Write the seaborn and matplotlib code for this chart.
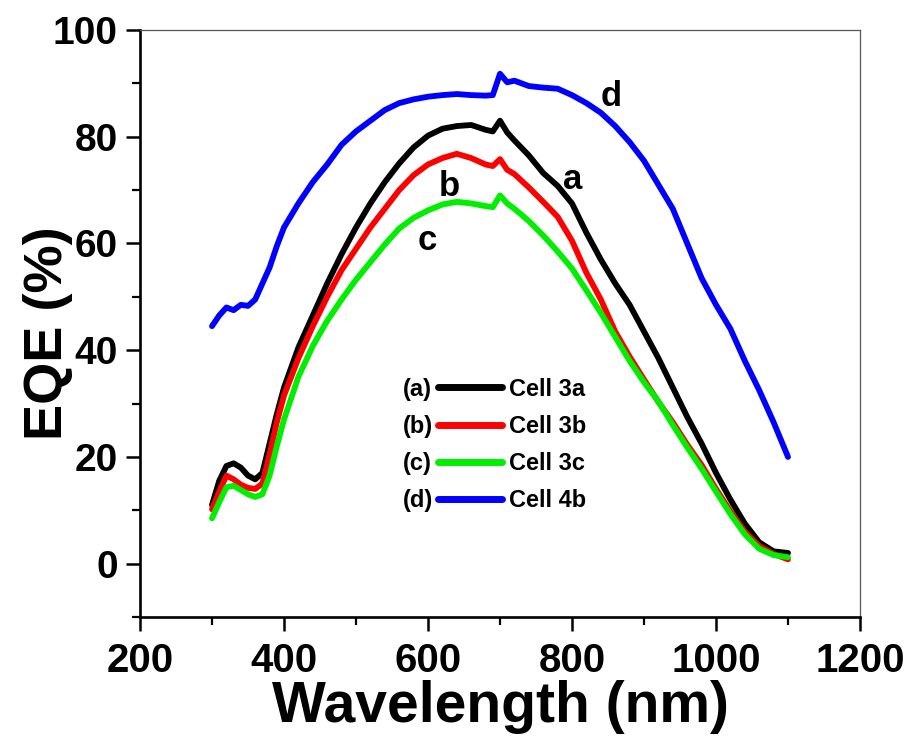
import numpy as np
import pandas as pd
import matplotlib
matplotlib.use("Agg")
import matplotlib.pyplot as plt
import seaborn as sns
from matplotlib.ticker import MultipleLocator

# ---- data ----
wavelength = [300, 310, 320, 330, 340, 350, 360, 370, 380, 390, 400, 420, 440, 460, 480,
              500, 520, 540, 560, 580, 600, 620, 640, 660, 680, 690, 700, 710, 720, 740,
              760, 780, 800, 820, 840, 860, 880, 900, 920, 940, 960, 980, 1000, 1020,
              1040, 1060, 1080, 1100]

eqe_3a = [11.0, 15.5, 18.3, 18.8, 18.0, 16.5, 15.8, 17.0, 22.5, 28.0, 33.0, 40.5, 46.5, 52.5,
          58.0, 63.0, 67.5, 71.5, 75.0, 78.0, 80.2, 81.5, 82.0, 82.2, 81.3, 81.0, 83.0, 80.8,
          79.3, 76.5, 73.2, 70.8, 67.5, 62.0, 57.0, 52.5, 48.5, 43.5, 38.5, 33.0, 27.5, 22.5,
          17.0, 12.0, 7.5, 4.0, 2.3, 2.0]

eqe_3b = [10.2, 13.5, 16.5, 15.8, 14.8, 14.2, 14.0, 15.0, 20.5, 26.5, 31.5, 38.5, 44.5, 50.0,
          55.0, 59.0, 63.0, 66.5, 70.0, 72.8, 74.8, 76.0, 76.8, 76.0, 74.8, 74.5, 75.8, 73.8,
          73.0, 70.5, 67.8, 65.0, 60.5, 54.5, 49.5, 43.5, 38.8, 34.5, 30.3, 26.5, 22.3, 18.5,
          14.0, 9.8, 6.0, 3.3, 1.8, 0.8]

eqe_3c = [8.5, 11.5, 14.3, 14.6, 13.8, 13.0, 12.5, 13.0, 16.5, 22.0, 27.0, 35.0, 40.8, 45.5,
          49.5, 53.2, 56.5, 59.8, 62.8, 64.8, 66.2, 67.3, 67.8, 67.5, 67.0, 66.8, 69.0, 67.5,
          66.5, 64.2, 61.5, 58.5, 55.3, 51.2, 47.0, 42.5, 38.0, 34.0, 30.4, 26.0, 21.8, 17.8,
          13.5, 9.3, 5.5, 2.8, 1.6, 1.2]

eqe_4b = [44.5, 46.5, 48.0, 47.5, 48.5, 48.3, 49.5, 52.5, 55.5, 59.5, 63.0, 67.5, 71.5, 74.8,
          78.5, 81.0, 83.0, 85.0, 86.3, 87.0, 87.5, 87.8, 88.0, 87.8, 87.7, 87.8, 91.8, 90.2,
          90.5, 89.5, 89.2, 89.0, 87.8, 86.3, 84.5, 82.0, 79.0, 75.5, 71.0, 66.5, 60.0, 53.5,
          48.5, 44.0, 38.0, 32.5, 26.5, 20.0]

series_names = ["Cell 3a", "Cell 3b", "Cell 3c", "Cell 4b"]
series_tags = ["(a)", "(b)", "(c)", "(d)"]
series_colors = ["#000000", "#ff0000", "#00ee00", "#0000ff"]
curve_letters = ["a", "b", "c", "d"]
letter_pos = [(801, 71.9), (630, 70.6), (599, 60.5), (855, 87.5)]

x_ticks = [200, 400, 600, 800, 1000, 1200]
y_ticks = [0, 20, 40, 60, 80, 100]

# ---- build table ----
frames = []
for name, vals in zip(series_names, [eqe_3a, eqe_3b, eqe_3c, eqe_4b]):
    frames.append(pd.DataFrame({"Wavelength": wavelength, "EQE": vals, "Cell": name}))
df = pd.concat(frames, ignore_index=True)

sns.set_style("ticks")
plt.rcParams["font.family"] = ["Liberation Sans", "DejaVu Sans"]
plt.rcParams["font.weight"] = "bold"
plt.rcParams["text.color"] = "black"
plt.rcParams["axes.labelcolor"] = "black"
plt.rcParams["xtick.color"] = "black"
plt.rcParams["ytick.color"] = "black"

fig = plt.figure(figsize=(9.11, 7.44), dpi=100)
ax = fig.add_axes([140 / 911, 1 - 617 / 744, 720 / 911, 587 / 744])

for name, color in zip(series_names, series_colors):
    sub = df[df["Cell"] == name]
    sns.lineplot(data=sub, x="Wavelength", y="EQE", color=color, lw=4.2,
                 ax=ax, label=name, solid_capstyle="round", solid_joinstyle="round")

ax.set_xlim(200, 1200)
ax.set_ylim(-10, 100)
ax.set_xticks(x_ticks)
ax.set_yticks(y_ticks)
ax.xaxis.set_minor_locator(MultipleLocator(100))
ax.yaxis.set_minor_locator(MultipleLocator(10))

for side in ["left", "bottom"]:
    ax.spines[side].set_linewidth(1.9)
    ax.spines[side].set_color("black")
for side in ["top", "right"]:
    ax.spines[side].set_linewidth(0.9)
    ax.spines[side].set_color("#555555")

ax.tick_params(axis="both", which="major", direction="out", length=10, width=1.8,
               color="black", labelcolor="black", top=False, right=False)
ax.tick_params(axis="both", which="minor", direction="out", length=6, width=1.6,
               color="black", top=False, right=False)
ax.tick_params(axis="x", which="major", labelsize=29, pad=8)
ax.tick_params(axis="y", which="major", labelsize=28, pad=6)
for lab in ax.get_xticklabels() + ax.get_yticklabels():
    lab.set_fontweight("bold")

ax.set_xlabel("Wavelength (nm)", fontsize=41, fontweight="bold", labelpad=0, color="black")
ax.set_ylabel("EQE (%)", fontsize=39, fontweight="bold", color="black")
ax.yaxis.set_label_coords((73 - 140) / 720, (617 - 333) / 587)

# curve letters
for letter, (lx, ly) in zip(curve_letters, letter_pos):
    ax.text(lx, ly, letter, fontsize=25, fontweight="bold", ha="center", va="center",
            color="black")

# legend
leg = ax.legend(loc="center left", bbox_to_anchor=((438 - 140) / 720, (617 - 445) / 587),
                frameon=False, handlelength=2.7, handletextpad=0.3,
                labelspacing=0.6, borderpad=0, borderaxespad=0,
                prop={"weight": "bold", "size": 17})
for txt in leg.get_texts():
    txt.set_color("black")
for line in leg.get_lines():
    line.set_linewidth(5)
    line.set_solid_capstyle("round")

fig.canvas.draw()
inv = ax.transAxes.inverted()
for tag, txt in zip(series_tags, leg.get_texts()):
    bb = txt.get_window_extent()
    yc = inv.transform(((bb.x0 + bb.x1) / 2, (bb.y0 + bb.y1) / 2))[1]
    ax.text((403 - 140) / 720, yc, tag, transform=ax.transAxes, fontsize=17,
            fontweight="bold", ha="left", va="center", color="black")

fig.savefig("out.png", dpi=100)
